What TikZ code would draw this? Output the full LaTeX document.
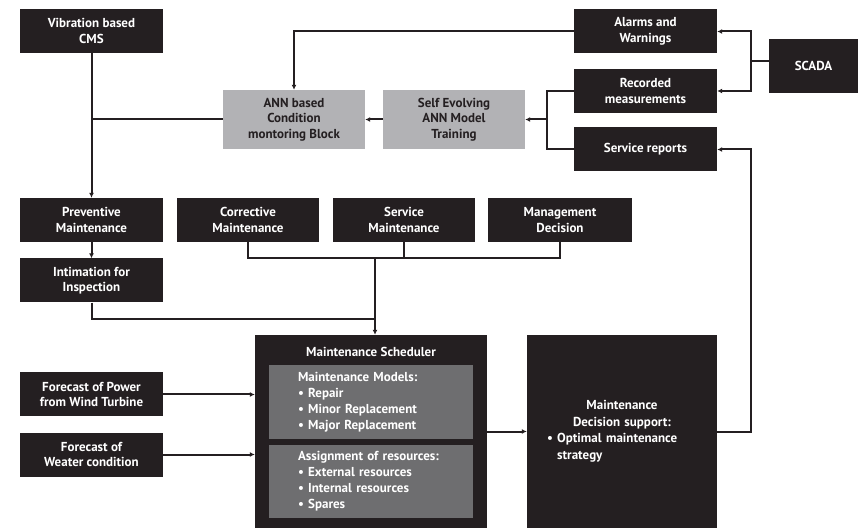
\documentclass[tikz,border=0pt]{standalone}
\usepackage{fontspec}
\setmainfont{PT Sans}
\usetikzlibrary{arrows.meta,calc}
\definecolor{boxblack}{rgb}{0.14, 0.12, 0.13}
\definecolor{anngray}{rgb}{0.70, 0.70, 0.71}
\definecolor{innergray}{rgb}{0.43, 0.43, 0.44}

\begin{document}
\begin{tikzpicture}[x=1pt, y=-1pt,
		blk/.style={fill=boxblack, text=white, align=center, minimum width=143pt, minimum height=44pt, inner sep=2pt, font=\fontsize{13}{15.5}\selectfont\bfseries},
		gry/.style={blk, fill=anngray, text=boxblack, minimum width=142pt, minimum height=59pt},
		inr/.style={fill=innergray, text=white, align=left, minimum width=204pt, text width=146pt, inner xsep=29pt, font=\fontsize{13}{16}\selectfont\bfseries},
		ln/.style={line width=2pt, boxblack},
		arr/.style={ln, -{Latex[length=5pt, width=5pt]}}]
			\useasboundingbox (0,0) rectangle (860,529);
			
			\node[blk] (cms) at (91.5,31) {Vibration based\\CMS};
			\node[gry] (ann) at (294,119.5) {ANN based\\Condition\\montoring Block};
			\node[gry] (train) at (454,119.5) {Self Evolving\\ANN Model\\Training};
			\node[blk] (alarms) at (645.5,31.5) {Alarms and\\Warnings};
			\node[blk] (rec) at (645.5,91) {Recorded\\measurements};
			\node[blk] (srv) at (645.5,149.5) {Service reports};
			\node[blk, minimum width=89pt, minimum height=54pt] (scada) at (813.5,66) {SCADA};
			
			\node[blk] (prev) at (91.5,220) {Preventive\\Maintenance};
			\node[blk, minimum width=142pt] (corr) at (248,220) {Corrective\\Maintenance};
			\node[blk, minimum width=142pt] (smaint) at (404,220) {Service\\Maintenance};
			\node[blk, minimum width=144pt] (mgmt) at (560,220) {Management\\Decision};
			\node[blk] (intim) at (91.5,280.5) {Intimation for\\Inspection};
			
			\node[blk] (fpow) at (91.5,394.5) {Forecast of Power\\from Wind Turbine};
			\node[blk] (fwea) at (91.5,454.5) {Forecast of\\Weater condition};
			
			\node[blk, minimum width=232pt, minimum height=193pt] (sched) at (371,431.5) {};
			\node[blk, fill=none, minimum height=0pt] (schedt) at (371,352) {Maintenance Scheduler};
			\node[inr, minimum height=74pt] (models) at (371,402) {Maintenance Models:\\• Repair\\• Minor Replacement\\• Major Replacement};
			\node[inr, minimum height=73pt] (assign) at (371,481.5) {Assignment of resources:\\• External resources\\• Internal resources\\• Spares};
			
			\node[blk, minimum width=190pt, minimum height=193pt, text width=150pt, font=\fontsize{13}{16.5}\selectfont\bfseries] (dss) at (622,431.5) {Maintenance\\Decision support:\\\makebox[150pt][l]{• Optimal maintenance}\\\makebox[150pt][l]{\phantom{• }strategy}};
			
			\coordinate (sj) at (751,61);
			\coordinate (rj) at (547,119.5);
			\coordinate (mj) at (375,258);
			\coordinate (ij) at (375,319);
			\coordinate (dj) at (751,431.5);
			
			\draw[arr] (cms.south) -- (prev.north);
			\draw[ln] (ann.west) -- (ann.west -| cms.south);
			\draw[arr] (alarms.west) -| (ann.north);
			\draw[arr] (train.west) -- (ann.east);
			\draw[ln] (scada.west |- sj) -- (sj);
			\draw[arr] (sj) |- (alarms.east);
			\draw[arr] (sj) |- (rec.east);
			\draw[ln] (rec.west) -| (rj) |- (srv.west);
			\draw[arr] (rj) -- (train.east);
			
			\draw[arr] (prev.south) -- (intim.north);
			\draw[ln] (corr.south) -- ++(0,16) -| (mgmt.south);
			\draw[ln] (smaint.south) -- (smaint.south |- mj);
			\draw[ln] (intim.south) |- (ij);
			\draw[arr] (mj) -- (mj |- sched.north);
			
			\draw[arr] (fpow.east) -- (fpow.east -| sched.west);
			\draw[arr] (fwea.east) -- (fwea.east -| sched.west);
			\draw[arr] (sched.east) -- (dss.west);
			\draw[arr] (dss.east) -- (dj) |- (srv.east);
		\end{tikzpicture}
\end{document}
